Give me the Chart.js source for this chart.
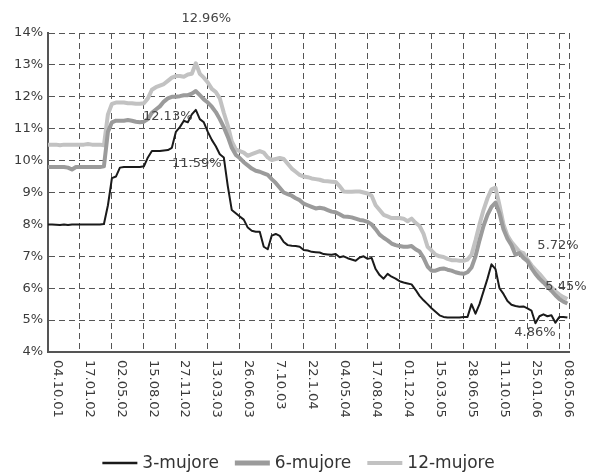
<!DOCTYPE html>
<html>
<head>
<meta charset="utf-8">
<script src="https://cdn.jsdelivr.net/npm/chart.js@4.4.1/dist/chart.umd.min.js"></script>
<style>
    html, body { margin: 0; padding: 0; background: #fff; }
    #wrap { width: 597px; height: 474px; position: relative; }
</style>
</head>
<body>
<div id="wrap"><canvas id="ratesChart"></canvas></div>
<script>
// Tick labels on the date axis (one every tick interval)
const TICK_LABELS = ['04.10.01', '17.01.02', '02.05.02', '15.08.02', '27.11.02', '13.03.03',
    '26.06.03', '7.10.03', '22.1.04', '04.05.04', '17.08.04', '01.12.04', '15.03.05',
    '28.06.05', '11.10.05', '25.01.06', '08.05.06'];

// Readings per tick interval in the series below
const SAMPLES_PER_TICK = 8;

const SERIES_NAMES = ['3-mujore', '6-mujore', '12-mujore'];

const RATES_3M = [
    8.0, 8.0, 7.99, 7.98, 8.0, 7.98, 8.0, 8.0, 8.0, 8.0, 8.0, 8.0, 8.0, 8.0, 8.01,
    8.6, 9.45, 9.5, 9.78, 9.8, 9.8, 9.8, 9.8, 9.8, 9.82,
    10.1, 10.3, 10.3, 10.3, 10.32, 10.33, 10.4, 10.9, 11.05, 11.25,
    11.2, 11.45, 11.59, 11.3, 11.2, 10.9, 10.65, 10.45, 10.2, 10.1,
    9.2, 8.45, 8.35, 8.25, 8.15, 7.9, 7.8, 7.77, 7.77, 7.3,
    7.22, 7.65, 7.7, 7.64, 7.45, 7.35, 7.33, 7.32, 7.3, 7.2,
    7.18, 7.14, 7.13, 7.12, 7.07, 7.06, 7.05, 7.07, 6.97, 7.0,
    6.94, 6.9, 6.86, 6.96, 7.0, 6.92, 6.95, 6.6, 6.41, 6.3,
    6.45, 6.36, 6.3, 6.22, 6.18, 6.15, 6.12, 5.95, 5.76, 5.62,
    5.5, 5.37, 5.26, 5.15, 5.1, 5.08, 5.08, 5.08, 5.08, 5.1,
    5.1, 5.5, 5.2, 5.5, 5.9, 6.3, 6.75, 6.6, 6.0, 5.82,
    5.6, 5.48, 5.44, 5.42, 5.43, 5.37, 5.3, 4.9, 5.12, 5.18,
    5.12, 5.15, 4.92, 5.1, 5.1, 5.08
];

const RATES_6M = [
    9.8, 9.8, 9.8, 9.8, 9.8, 9.78, 9.72, 9.8, 9.8, 9.8, 9.8, 9.8, 9.8, 9.8, 9.82,
    10.9, 11.2, 11.25, 11.25, 11.25, 11.27, 11.25, 11.22, 11.2, 11.22,
    11.3, 11.5, 11.6, 11.7, 11.85, 11.95, 12.0, 12.0, 12.02, 12.05,
    12.05, 12.1, 12.18, 12.05, 11.92, 11.82, 11.69, 11.52, 11.3, 11.05,
    10.75, 10.4, 10.18, 10.08, 9.95, 9.85, 9.75, 9.68, 9.65, 9.6,
    9.55, 9.42, 9.3, 9.15, 9.0, 8.95, 8.9, 8.82, 8.76, 8.65,
    8.6, 8.55, 8.5, 8.52, 8.5, 8.45, 8.4, 8.38, 8.32, 8.25,
    8.24, 8.22, 8.18, 8.14, 8.12, 8.08, 8.0, 7.85, 7.68, 7.58,
    7.5, 7.4, 7.35, 7.32, 7.3, 7.3, 7.32, 7.22, 7.15, 6.95,
    6.68, 6.55, 6.55, 6.6, 6.62, 6.58, 6.55, 6.5, 6.47, 6.45,
    6.5, 6.65, 7.0, 7.5, 7.95, 8.3, 8.55, 8.68, 8.35, 7.85,
    7.55, 7.35, 7.05, 7.1, 6.95, 6.85, 6.63, 6.45, 6.3, 6.18,
    6.05, 5.92, 5.78, 5.66, 5.58, 5.52
];

const RATES_12M = [
    10.5, 10.5, 10.5, 10.48, 10.5, 10.5, 10.5, 10.5, 10.5, 10.5, 10.52, 10.5, 10.5, 10.5, 10.48,
    11.45, 11.78, 11.82, 11.82, 11.82, 11.8, 11.8, 11.78, 11.78, 11.8,
    11.95, 12.22, 12.3, 12.35, 12.4, 12.5, 12.6, 12.65, 12.65, 12.63,
    12.7, 12.72, 13.05, 12.72, 12.6, 12.45, 12.25, 12.15, 11.95, 11.5,
    11.1, 10.6, 10.35, 10.3, 10.25, 10.15, 10.2, 10.25, 10.3, 10.25,
    10.1, 10.02, 10.05, 10.08, 10.05, 9.9, 9.75, 9.65, 9.55, 9.5,
    9.48, 9.44, 9.42, 9.4, 9.36, 9.35, 9.34, 9.33, 9.2, 9.03,
    9.02, 9.02, 9.03, 9.03, 9.0, 8.97, 8.9, 8.6, 8.45, 8.3,
    8.25, 8.2, 8.2, 8.2, 8.18, 8.1, 8.18, 8.05, 7.95, 7.7,
    7.3, 7.18, 7.05, 7.0, 6.98, 6.92, 6.88, 6.88, 6.86, 6.86,
    6.9, 7.05, 7.5, 8.0, 8.45, 8.82, 9.1, 9.15, 8.6, 8.0,
    7.65, 7.45, 7.3, 7.15, 7.1, 6.9, 6.72, 6.58, 6.45, 6.3,
    6.15, 6.03, 5.9, 5.8, 5.72, 5.66
];

// Value labels written on the chart
const NOTE_TEXTS = ['12.96%', '12.13%', '11.59%', '5.72%', '5.45%', '4.86%'];

// Layout & style (kept apart from the data)
const FONT = '"DejaVu Sans", sans-serif';
const TEXT_COLOR = '#3a3a3a';
const GRID_COLOR = '#555';
const LINE_COLORS = ['#1a1a1a', '#9b9b9b', '#c2c2c2'];
const LINE_WIDTHS = [2, 4, 4];
const LEGEND_WIDTHS = [2.5, 5, 4];
const X_MAX = 16.3;
// anchor of each note in axis units [x tick, y %] and text alignment
const NOTE_ANCHORS = [[4.95, 14.44, 'center'], [2.97, 11.37, 'left'], [3.88, 9.92, 'left'],
    [15.31, 7.32, 'left'], [15.56, 6.04, 'left'], [14.59, 4.6, 'left']];

const toPoints = values => values.map((v, i) => ({ x: i / SAMPLES_PER_TICK, y: v }));

const datasets = [RATES_3M, RATES_6M, RATES_12M].map((values, i) => ({
    label: SERIES_NAMES[i],
    data: toPoints(values),
    borderColor: LINE_COLORS[i],
    backgroundColor: LINE_COLORS[i],
    borderWidth: LINE_WIDTHS[i],
    pointRadius: 0,
    tension: 0,
    borderJoinStyle: 'round'
}));

// Rotated date labels, notes and legend drawn on top of the chart
const decorPlugin = {
    id: 'decor',
    afterDraw(chart) {
        const { ctx, scales: { x, y } } = chart;
        ctx.save();
        ctx.fillStyle = TEXT_COLOR;

        // date labels, reading top to bottom
        ctx.font = '13px ' + FONT;
        ctx.textAlign = 'left';
        ctx.textBaseline = 'middle';
        TICK_LABELS.forEach((label, i) => {
            ctx.save();
            ctx.translate(x.getPixelForValue(i) + 9, x.top + 8);
            ctx.rotate(Math.PI / 2);
            ctx.fillText(label, 0, 0);
            ctx.restore();
        });

        // notes
        ctx.fillStyle = '#444';
        NOTE_TEXTS.forEach((text, i) => {
            const [nx, ny, align] = NOTE_ANCHORS[i];
            ctx.textAlign = align;
            ctx.fillText(text, x.getPixelForValue(nx), y.getPixelForValue(ny));
        });

        // legend
        ctx.font = '17px ' + FONT;
        ctx.textAlign = 'left';
        ctx.fillStyle = '#333';
        const lineLen = 35, gap = 5, spacing = 16, legendY = 463;
        const widths = SERIES_NAMES.map(n => lineLen + gap + ctx.measureText(n).width);
        const total = widths.reduce((a, b) => a + b, 0) + spacing * (widths.length - 1);
        let lx = (chart.width - total) / 2;
        SERIES_NAMES.forEach((name, i) => {
            ctx.strokeStyle = LINE_COLORS[i];
            ctx.lineWidth = LEGEND_WIDTHS[i];
            ctx.beginPath();
            ctx.moveTo(lx, legendY);
            ctx.lineTo(lx + lineLen, legendY);
            ctx.stroke();
            ctx.fillText(name, lx + lineLen + gap, legendY + 1);
            lx += widths[i] + spacing;
        });
        ctx.restore();
    }
};

new Chart(document.getElementById('ratesChart'), {
    type: 'line',
    data: { datasets },
    options: {
        responsive: true,
        maintainAspectRatio: false,
        animation: false,
        layout: { padding: { top: 33, right: 28, bottom: 0, left: 0 } },
        plugins: {
            legend: { display: false },
            tooltip: { enabled: false }
        },
        scales: {
            x: {
                type: 'linear',
                min: 0,
                max: X_MAX,
                afterBuildTicks: scale => {
                    scale.ticks = TICK_LABELS.map((_, i) => ({ value: i })).concat([{ value: X_MAX }]);
                },
                afterFit: scale => { scale.height = 122; },
                ticks: { display: false },
                grid: { color: GRID_COLOR, lineWidth: 1, drawTicks: false },
                border: { display: true, color: '#555', width: 2, dash: [6, 4] }
            },
            y: {
                min: 4,
                max: 14,
                afterFit: scale => { scale.width = 48; },
                ticks: {
                    stepSize: 1,
                    padding: 5,
                    color: TEXT_COLOR,
                    font: { family: FONT, size: 13 },
                    callback: v => v + '%'
                },
                grid: { color: GRID_COLOR, lineWidth: 1, drawTicks: false },
                border: { display: true, color: '#555', width: 2, dash: [6, 4] }
            }
        }
    },
    plugins: [decorPlugin]
});
</script>
</body>
</html>
